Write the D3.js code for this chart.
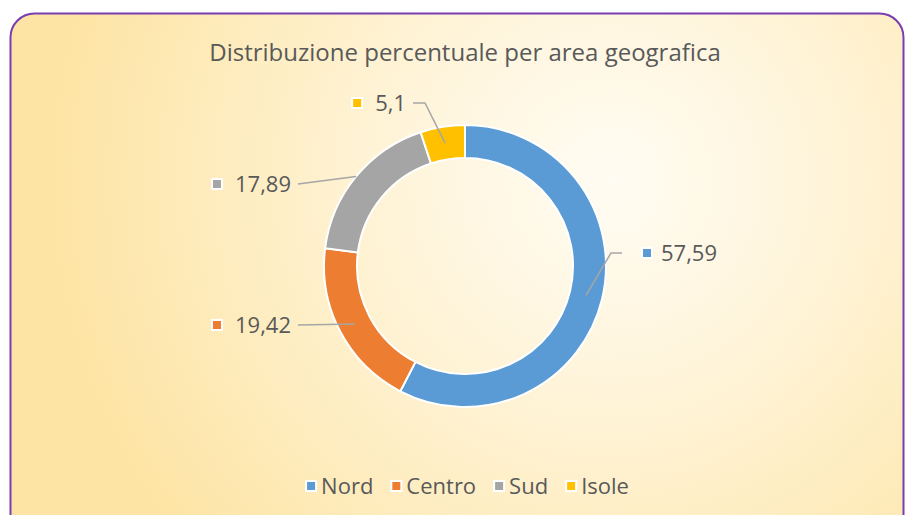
<!DOCTYPE html>
<html>
<head>
<meta charset="utf-8">
<script src="https://cdn.jsdelivr.net/npm/d3@7"></script>
<style>
  body { margin: 0; background: #fff; }
  svg { display: block; }
  text { font-family: "Open Sans", "Noto Sans", sans-serif; fill: #595959; }
</style>
</head>
<body>
<svg id="chart" width="906" height="515"></svg>
<script>
// chart data
var areas = ["Nord", "Centro", "Sud", "Isole"];
var shares = [57.59, 19.42, 17.89, 5.1];
var shareLabels = ["57,59", "19,42", "17,89", "5,1"];
var colors = ["#5B9BD5", "#ED7D31", "#A5A5A5", "#FFC000"];
var title = "Distribuzione percentuale per area geografica";

// label placement (where the leader line leaves the label, relative to centre)
var labelLayout = [
  { dx: 157, dy: -13, side: "right", elbow: [146, -13], endR: "mid" },
  { dx: -167, dy: 59, side: "left", elbow: null, endR: "mid" },
  { dx: -167, dy: -82, side: "left", elbow: null, endR: "outer" },
  { dx: -52, dy: -163, side: "left", elbow: [-40, -163], endR: "mid" }
];

var svg = d3.select("#chart");
var cx = 465, cy = 266;
var outerR = 141, innerR = 108;

// background
var defs = svg.append("defs");
var grad = defs.append("radialGradient")
  .attr("id", "bg")
  .attr("gradientUnits", "userSpaceOnUse")
  .attr("cx", 610).attr("cy", 180).attr("r", 560);
grad.append("stop").attr("offset", "0%").attr("stop-color", "#FFFCF3");
grad.append("stop").attr("offset", "35%").attr("stop-color", "#FFF5DC");
grad.append("stop").attr("offset", "75%").attr("stop-color", "#FEEBBA");
grad.append("stop").attr("offset", "100%").attr("stop-color", "#FDE4A4");

svg.append("rect")
  .attr("x", 10.5).attr("y", 13.5)
  .attr("width", 893).attr("height", 530)
  .attr("rx", 24).attr("ry", 24)
  .attr("fill", "url(#bg)")
  .attr("stroke", "#7A3DB0")
  .attr("stroke-width", 2);

// title
svg.append("text")
  .attr("x", cx).attr("y", 61)
  .attr("text-anchor", "middle")
  .style("font-size", "24px")
  .text(title);

// donut
var pie = d3.pie().sort(null).value(d => d)
  .startAngle(0).endAngle(2 * Math.PI);
var arcs = pie(shares);
var arc = d3.arc().innerRadius(innerR).outerRadius(outerR);

var g = svg.append("g").attr("transform", "translate(" + cx + "," + cy + ")");

g.selectAll("path.slice")
  .data(arcs)
  .enter().append("path")
  .attr("class", "slice")
  .attr("d", arc)
  .attr("fill", (d, i) => colors[i])
  .attr("stroke", "#fff")
  .attr("stroke-width", 2);

function polar(r, a) { return [r * Math.sin(a), -r * Math.cos(a)]; }

// leader lines + data labels
arcs.forEach(function(d, i) {
  var L = labelLayout[i];
  var mid = (d.startAngle + d.endAngle) / 2;
  var r = L.endR == "outer" ? outerR : (innerR + outerR) / 2;
  var pts = [[L.dx, L.dy]];
  if (L.elbow) pts.push(L.elbow);
  pts.push(polar(r, mid));
  g.append("path")
    .attr("d", d3.line()(pts))
    .attr("fill", "none")
    .attr("stroke", "#A6A6A6")
    .attr("stroke-width", 1.5);

  var t = g.append("text")
    .attr("y", L.dy)
    .attr("dy", "0.36em")
    .style("font-size", "22px")
    .text(shareLabels[i]);
  var mx;
  if (L.side == "right") {
    mx = L.dx + 25;
    t.attr("x", L.dx + 39).attr("text-anchor", "start");
  } else {
    t.attr("x", L.dx - 7).attr("text-anchor", "end");
    mx = L.dx - 7 - t.node().getComputedTextLength() - 18;
  }
  g.append("rect")
    .attr("x", mx - 6).attr("y", L.dy - 6)
    .attr("width", 12).attr("height", 12)
    .attr("fill", "#fff");
  g.append("rect")
    .attr("x", mx - 4).attr("y", L.dy - 4)
    .attr("width", 8).attr("height", 8)
    .attr("fill", colors[i]);
});

// legend
var legend = svg.append("g");
var lx = 0;
areas.forEach(function(name, i) {
  var item = legend.append("g").attr("transform", "translate(" + lx + ",0)");
  item.append("rect").attr("x", -1).attr("y", -6).attr("width", 12).attr("height", 12).attr("fill", "#fff");
  item.append("rect").attr("x", 1).attr("y", -4).attr("width", 8).attr("height", 8).attr("fill", colors[i]);
  var t = item.append("text").attr("x", 15).attr("y", 0).attr("dy", "0.36em")
    .style("font-size", "22px").text(name);
  lx += 15 + t.node().getComputedTextLength() + 18;
});
var bb = legend.node().getBBox();
legend.attr("transform", "translate(" + (cx + 3 - bb.width / 2) + ",486)");
</script>
</body>
</html>
